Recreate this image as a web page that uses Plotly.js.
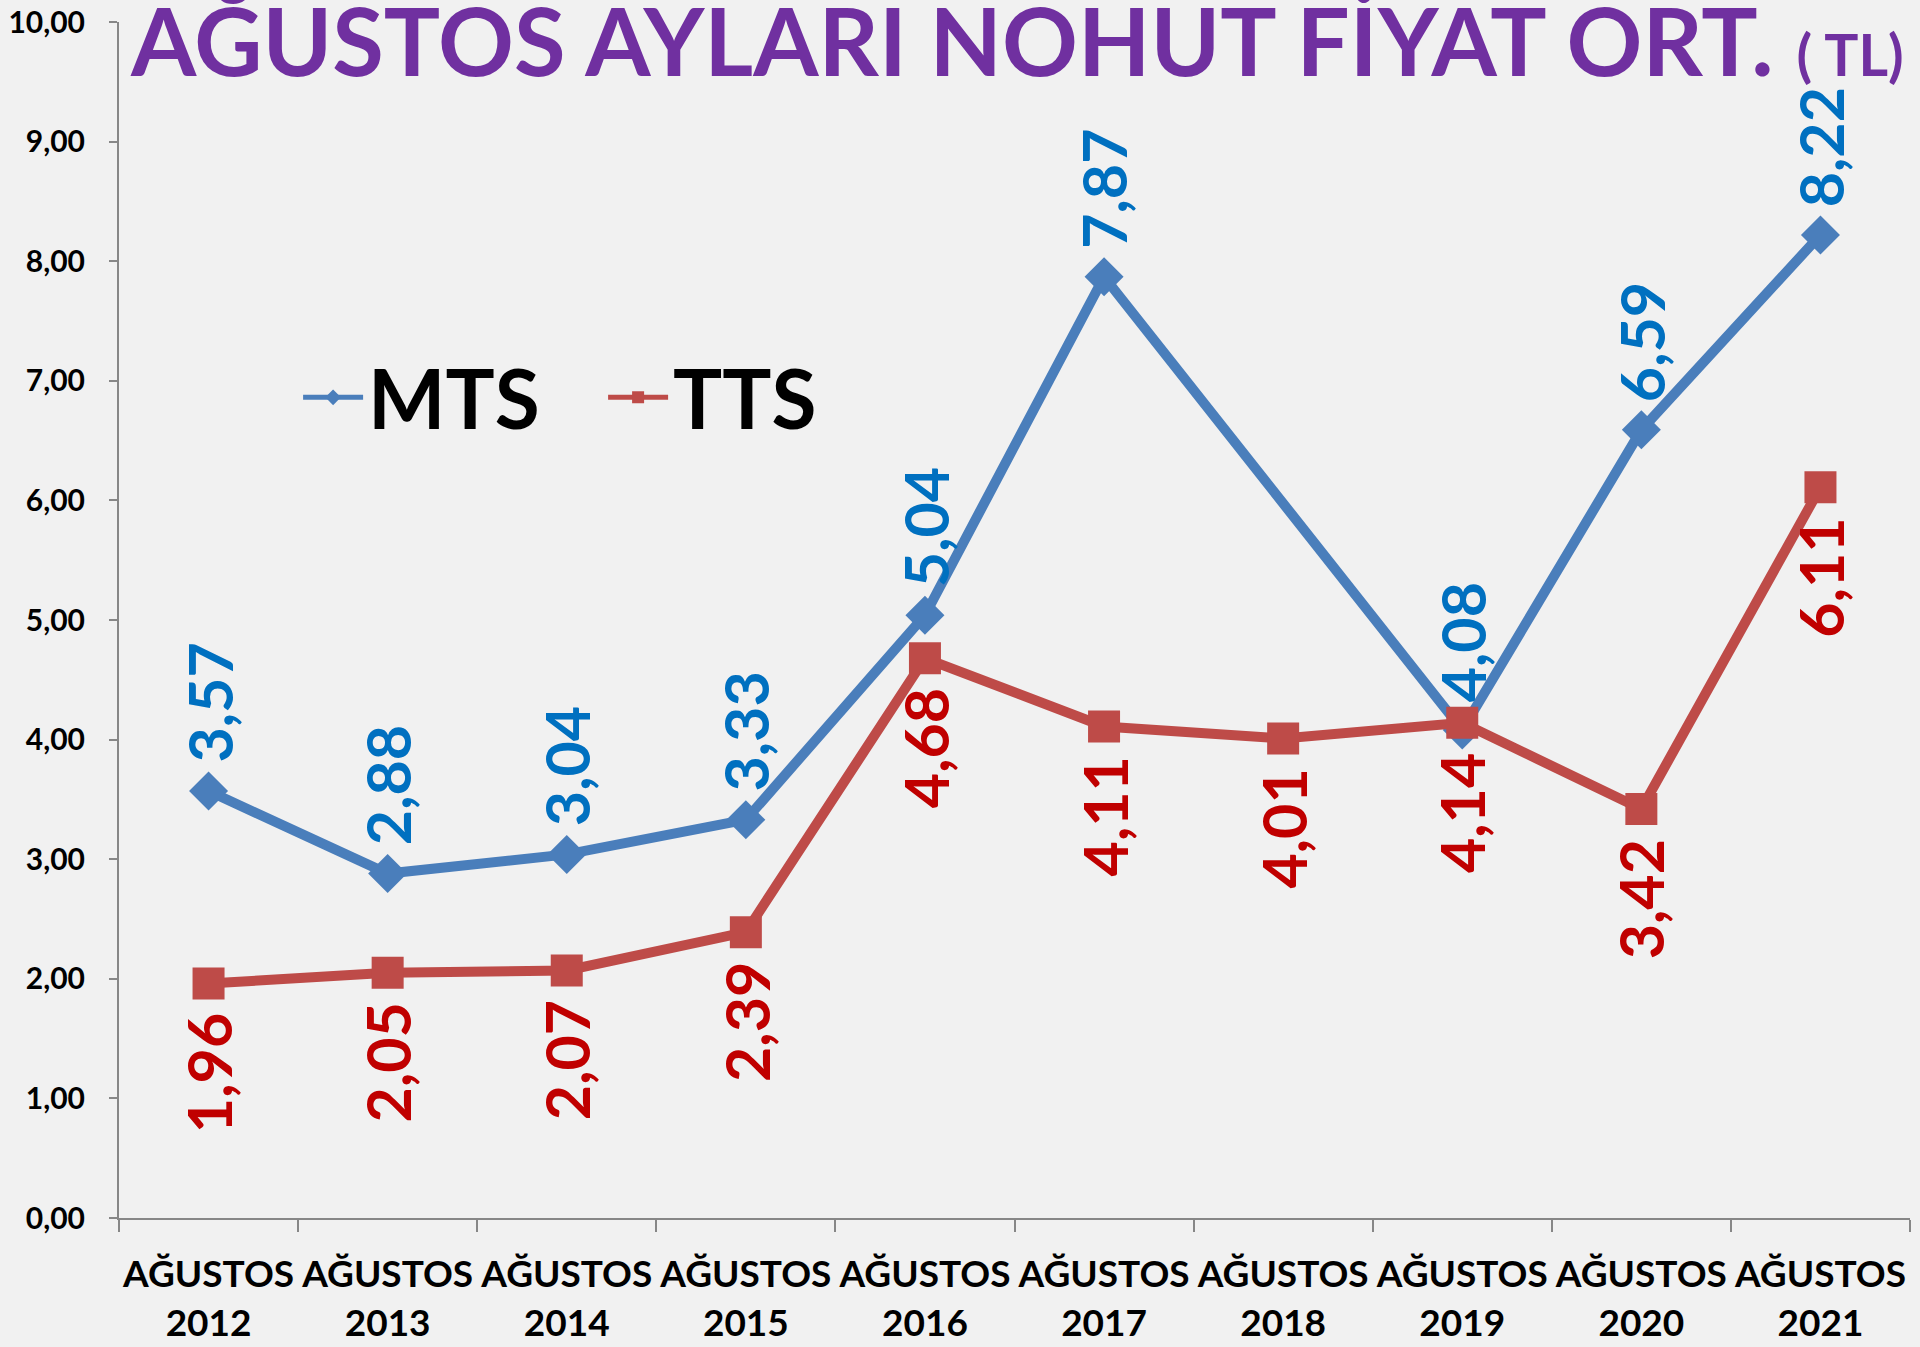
<!DOCTYPE html>
<html>
<head>
<meta charset="utf-8">
<script src="https://cdn.plot.ly/plotly-3.0.1.min.js"></script>
<style>
html,body{margin:0;padding:0;background:#f1f1f1;}
#chart{width:1920px;height:1347px;}
</style>
</head>
<body>
<div id="chart"></div>
<script>
// ---- data ----
const years = ["2012","2013","2014","2015","2016","2017","2018","2019","2020","2021"];
const monthLabel = "AĞUSTOS";
const mtsValues = [3.57, 2.88, 3.04, 3.33, 5.04, 7.87, null, 4.08, 6.59, 8.22];
const ttsValues = [1.96, 2.05, 2.07, 2.39, 4.68, 4.11, 4.01, 4.14, 3.42, 6.11];
const yTickValues = [0,1,2,3,4,5,6,7,8,9,10];
const titleText = "AĞUSTOS AYLARI NOHUT FİYAT ORT.";
const titleUnit = "( TL)";

const categories = years.map(y => monthLabel + "<br>" + y);
const FONT = "Lato, 'Open Sans', sans-serif";
const fmt = v => v.toFixed(2).replace(".", ",");

const traces = [
  {
    type: "scatter", mode: "lines+markers", name: "MTS",
    x: categories, y: mtsValues, connectgaps: true,
    line: {color: "#4A7EBB", width: 10},
    marker: {symbol: "diamond", size: 30, color: "#4A7EBB"}
  },
  {
    type: "scatter", mode: "lines+markers", name: "TTS",
    x: categories, y: ttsValues,
    line: {color: "#BE4B48", width: 10},
    marker: {symbol: "square", size: 32, color: "#BE4B48"}
  }
];

const annotations = [];
mtsValues.forEach((v, i) => {
  if (v === null) return;
  annotations.push({
    x: categories[i], y: v, xref: "x", yref: "y",
    text: fmt(v), showarrow: false, textangle: -90,
    xanchor: "center", yanchor: "bottom", yshift: 26,
    font: {family: FONT, size: 61, color: "#0070C0", weight: "bold"}
  });
});
ttsValues.forEach((v, i) => {
  if (v === null) return;
  annotations.push({
    x: categories[i], y: v, xref: "x", yref: "y",
    text: fmt(v), showarrow: false, textangle: -90,
    xanchor: "center", yanchor: "top", yshift: -28,
    font: {family: FONT, size: 61, color: "#C00000", weight: "bold"}
  });
});
annotations.push({
  xref: "paper", yref: "paper", x: 0.005, y: 1.034,
  xanchor: "left", yanchor: "top", showarrow: false,
  text: titleText + " <span style='font-size:57px'>" + titleUnit + "</span>",
  font: {family: FONT, size: 94, color: "#7030A0", weight: "bold"}
});

const layout = {
  width: 1920, height: 1347,
  paper_bgcolor: "#f1f1f1", plot_bgcolor: "rgba(0,0,0,0)",
  separators: ",.",
  margin: {l: 119, r: 10, t: 22, b: 129},
  showlegend: true,
  legend: {
    orientation: "h", x: 0.1, y: 0.686, xanchor: "left", yanchor: "middle",
    bgcolor: "rgba(0,0,0,0)", itemwidth: 60, itemsizing: "constant",
    entrywidth: 230,
    font: {family: FONT, size: 82, color: "#000000", weight: "bold"}
  },
  xaxis: {
    type: "category", range: [-0.5, 9.5], tickson: "boundaries",
    showgrid: false, zeroline: false, showline: true,
    linecolor: "#878787", linewidth: 2,
    ticks: "outside", ticklen: 12, tickwidth: 2, tickcolor: "#878787",
    ticklabelstandoff: 23, tickangle: 0,
    tickfont: {family: FONT, size: 37, color: "#000000", weight: "bold"}
  },
  yaxis: {
    range: [0, 10], tickvals: yTickValues, tickformat: ".2f",
    showgrid: false, zeroline: false, showline: true,
    linecolor: "#878787", linewidth: 2,
    ticks: "outside", ticklen: 8, tickwidth: 2, tickcolor: "#878787",
    ticklabelstandoff: 18,
    tickfont: {family: FONT, size: 30, color: "#000000", weight: "bold"}
  },
  annotations: annotations
};

Plotly.newPlot("chart", traces, layout, {displayModeBar: false, responsive: false});
</script>
</body>
</html>
